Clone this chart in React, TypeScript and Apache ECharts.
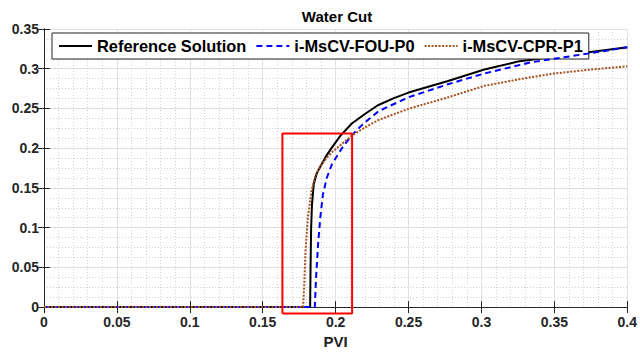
import React, { useEffect, useRef } from "react";
import * as echarts from "echarts";

// Reference Solution
const refX = [0, 0.1825, 0.1828, 0.1832, 0.1838, 0.185, 0.187, 0.1895, 0.1935, 0.1975, 0.2032, 0.2111, 0.2203, 0.229, 0.24, 0.25, 0.2771, 0.302, 0.325, 0.35, 0.375, 0.4];
const refY = [0, 0, 0.05, 0.1, 0.13, 0.155, 0.168, 0.177, 0.19, 0.201, 0.2155, 0.231, 0.2433, 0.254, 0.263, 0.27, 0.2846, 0.299, 0.309, 0.315, 0.321, 0.327];

// i-MsCV-FOU-P0
const fouX = [0, 0.1857, 0.1866, 0.188, 0.1895, 0.1913, 0.194, 0.1975, 0.2043, 0.2111, 0.218, 0.2225, 0.2294, 0.2498, 0.2771, 0.302, 0.3338, 0.3727, 0.4];
const fouY = [0, 0, 0.038, 0.08, 0.113, 0.142, 0.163, 0.18, 0.2, 0.2164, 0.229, 0.236, 0.2465, 0.264, 0.2805, 0.294, 0.308, 0.319, 0.327];

// i-MsCV-CPR-P1
const cprX = [0, 0.1777, 0.1785, 0.1793, 0.181, 0.1834, 0.186, 0.1895, 0.1935, 0.1975, 0.204, 0.2111, 0.2203, 0.2294, 0.2498, 0.2771, 0.302, 0.3295, 0.35, 0.375, 0.4];
const cprY = [0, 0, 0.03, 0.07, 0.113, 0.146, 0.165, 0.177, 0.187, 0.195, 0.205, 0.2158, 0.2262, 0.2355, 0.2495, 0.264, 0.2784, 0.288, 0.294, 0.299, 0.303];

// Zoom box (red rectangle) corners in data units
const boxX = [0.1635, 0.2113, 0.2113, 0.1635, 0.1635];
const boxY = [-0.0081, -0.0081, 0.2184, 0.2184, -0.0081];

const seriesNames = ["Reference Solution", "i-MsCV-FOU-P0", "i-MsCV-CPR-P1"];
const xTicks = { min: 0, max: 0.4, interval: 0.05 };
const yTicks = { min: 0, max: 0.35, interval: 0.05 };

const zip = (xs: number[], ys: number[]) => xs.map((x, i) => [x, ys[i]]);

const FONT = "'Liberation Sans', Arial, Helvetica, sans-serif";
const AX = "#262626";

export default function App() {
  const ref = useRef<HTMLDivElement>(null);
  useEffect(() => {
    if (!ref.current) return;
    const chart = echarts.init(ref.current, null, { renderer: "svg" });
    const boxAxis = {
      type: "value" as const,
      axisLine: { show: true, lineStyle: { color: AX, width: 1 } },
      axisTick: { show: true, inside: true, length: 6, lineStyle: { color: AX } },
      axisLabel: { show: false },
      splitLine: { show: false },
    };
    chart.setOption({
      animation: false,
      backgroundColor: "#fff",
      grid: { left: 44, right: 10, top: 29, bottom: 43, containLabel: false },
      graphic: [
        {
          type: "text",
          x: 337,
          y: 16,
          style: {
            text: "Water Cut",
            align: "center",
            verticalAlign: "middle",
            fontSize: 15,
            fontWeight: "bold",
            fontFamily: FONT,
            fill: "#000",
          },
        },
      ],
      legend: {
        data: seriesNames,
        left: 52,
        top: 33,
        itemWidth: 33,
        itemHeight: 14,
        itemGap: 9,
        padding: [5, 6, 5, 6],
        borderColor: AX,
        borderWidth: 1,
        backgroundColor: "#fff",
        selectedMode: false,
        itemStyle: { opacity: 0, borderWidth: 0 },
        textStyle: { fontSize: 16.4, fontWeight: "bold", fontFamily: FONT, color: "#000" },
      },
      xAxis: [
        {
          type: "value",
          min: xTicks.min,
          max: xTicks.max,
          interval: xTicks.interval,
          name: "PVI",
          nameLocation: "middle",
          nameGap: 22,
          nameTextStyle: { fontSize: 15, fontWeight: "bold", fontFamily: FONT, color: "#222" },
          axisLine: { show: true, onZero: false, lineStyle: { color: AX, width: 1 } },
          axisTick: { show: true, inside: true, length: 6, lineStyle: { color: AX } },
          axisLabel: { fontSize: 14, fontWeight: "bold", fontFamily: FONT, color: "#262626", margin: 8 },
          splitLine: { show: true, lineStyle: { color: "#e0e0e0", width: 1 } },
          minorTick: { show: false, splitNumber: 5 },
          minorSplitLine: { show: true, lineStyle: { color: "#d2d2d2", width: 1, type: [1, 2] } },
        },
        { ...boxAxis, position: "top", min: xTicks.min, max: xTicks.max, interval: xTicks.interval },
      ],
      yAxis: [
        {
          type: "value",
          min: yTicks.min,
          max: yTicks.max,
          interval: yTicks.interval,
          axisLine: { show: true, onZero: false, lineStyle: { color: AX, width: 1 } },
          axisTick: { show: true, inside: true, length: 6, lineStyle: { color: AX } },
          axisLabel: { fontSize: 14, fontWeight: "bold", fontFamily: FONT, color: "#262626", margin: 5 },
          splitLine: { show: true, lineStyle: { color: "#e0e0e0", width: 1 } },
          minorTick: { show: false, splitNumber: 4 },
          minorSplitLine: { show: true, lineStyle: { color: "#d2d2d2", width: 1, type: [1, 2] } },
        },
        { ...boxAxis, position: "right", min: yTicks.min, max: yTicks.max, interval: yTicks.interval },
      ],
      series: [
        {
          name: seriesNames[0],
          type: "line",
          data: zip(refX, refY),
          showSymbol: false,
          symbol: "none",
          lineStyle: { color: "#000", width: 2, type: "solid" },
          itemStyle: { color: "#000" },
          z: 3,
        },
        {
          name: seriesNames[1],
          type: "line",
          data: zip(fouX, fouY),
          showSymbol: false,
          symbol: "none",
          lineStyle: { color: "#0000ff", width: 2, type: [6, 4] },
          itemStyle: { color: "#0000ff" },
          z: 4,
        },
        {
          name: seriesNames[2],
          type: "line",
          data: zip(cprX, cprY),
          showSymbol: false,
          symbol: "none",
          lineStyle: { color: "#a5521f", width: 2, type: [2, 1.5] },
          itemStyle: { color: "#a5521f" },
          z: 5,
        },
        {
          name: "zoom box",
          type: "line",
          data: zip(boxX, boxY),
          showSymbol: false,
          symbol: "none",
          clip: false,
          silent: true,
          lineStyle: { color: "#ff0000", width: 2 },
          itemStyle: { color: "#ff0000" },
          z: 6,
        },
      ],
    });
    return () => chart.dispose();
  }, []);
  return (
    <div
      ref={ref}
      style={{ position: "fixed", left: 0, top: 0, width: 640, height: 354, background: "#fff" }}
    />
  );
}
